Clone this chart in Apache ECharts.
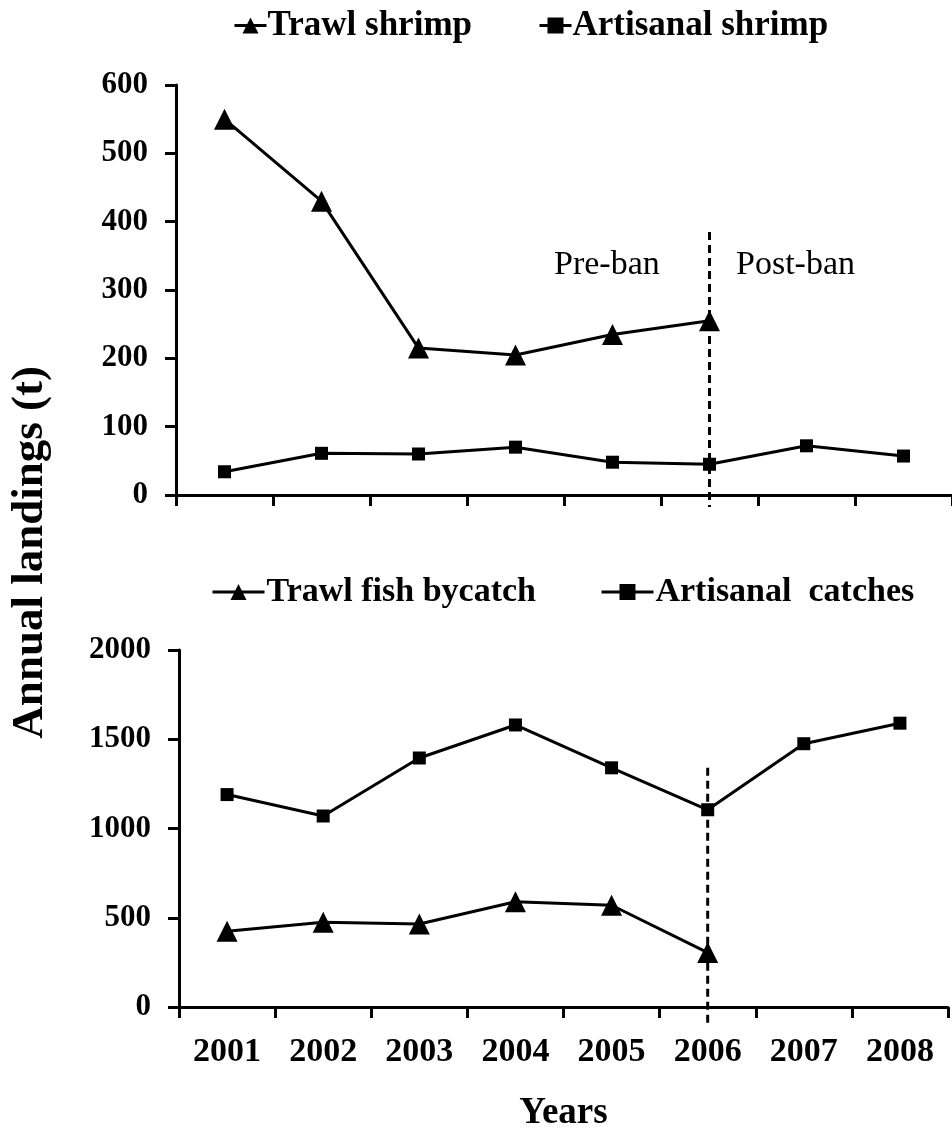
<!DOCTYPE html>
<html>
<head>
<meta charset="utf-8">
<script src="https://cdn.jsdelivr.net/npm/echarts@6/dist/echarts.min.js"></script>
<style>
html,body{margin:0;padding:0;background:#fff;}
#chart{width:952px;height:1133px;}
</style>
</head>
<body>
<div id="chart"></div>
<script>
const years = ['2001','2002','2003','2004','2005','2006','2007','2008'];
const trawlShrimp = [550, 430, 215, 205, 235, 255, null, null];
const artisanalShrimp = [34, 61, 60, 70, 48, 45, 72, 57];
const trawlFishBycatch = [425, 475, 465, 590, 570, 305, null, null];
const artisanalCatches = [1190, 1070, 1395, 1580, 1340, 1105, 1475, 1590];
const topTicks = {min: 0, max: 600, interval: 100};
const bottomTicks = {min: 0, max: 2000, interval: 500};
const banYear = '2006';
const topBanTop = 385;
const bottomBanTop = 1340;

const FONT = '"Liberation Serif", "Times New Roman", serif';
const BLACK = '#000';

const chart = echarts.init(document.getElementById('chart'), null, {renderer: 'canvas'});

function banLine(xIdx, yIdx, topVal, extra) {
  return {
    type: 'custom',
    xAxisIndex: xIdx, yAxisIndex: yIdx,
    clip: false, silent: true, z: 1,
    data: [[banYear, topVal]],
    renderItem: function (params, api) {
      const top = api.coord([api.value(0), api.value(1)]);
      const base = api.coord([api.value(0), 0]);
      return {
        type: 'line',
        shape: {x1: top[0], y1: top[1], x2: base[0], y2: base[1] + extra},
        style: {stroke: BLACK, lineWidth: 3, lineDash: [8, 5]}
      };
    }
  };
}

const lineStyle = {color: BLACK, width: 3};
const axisLabelY = {fontFamily: FONT, fontWeight: 'bold', fontSize: 31, color: BLACK, margin: 28,
  formatter: function (v) { return String(v); }};

const option = {
  backgroundColor: '#fff',
  animation: false,
  legend: [
    {
      data: ['Trawl shrimp', 'Artisanal shrimp'],
      left: 228, top: 3,
      itemWidth: 32, itemHeight: 20, itemGap: 66,
      lineStyle: {width: 3},
      textStyle: {fontFamily: FONT, fontWeight: 'bold', fontSize: 35, color: BLACK, padding: [0, 0, 0, -4]}
    },
    {
      data: ['Trawl fish bycatch', 'Artisanal  catches'],
      left: 206, top: 570,
      itemWidth: 52, itemHeight: 20, itemGap: 64,
      lineStyle: {width: 3},
      textStyle: {fontFamily: FONT, fontWeight: 'bold', fontSize: 34, color: BLACK, padding: [0, 0, 0, -3]}
    }
  ],
  grid: [
    {left: 176, top: 85, width: 776, height: 410},
    {left: 179, top: 650, width: 769, height: 363}
  ],
  xAxis: [
    {
      type: 'category', gridIndex: 0, data: years, boundaryGap: true,
      axisLine: {lineStyle: {color: BLACK, width: 3}},
      axisTick: {show: true, length: 11, lineStyle: {color: BLACK, width: 3}},
      axisLabel: {show: false}
    },
    {
      type: 'category', gridIndex: 1, data: years, boundaryGap: true,
      axisLine: {lineStyle: {color: BLACK, width: 3}},
      axisTick: {show: true, length: 11, lineStyle: {color: BLACK, width: 3}},
      axisLabel: {fontFamily: FONT, fontWeight: 'bold', fontSize: 34, color: BLACK, margin: 28},
      name: 'Years', nameLocation: 'middle', nameGap: 88,
      nameTextStyle: {fontFamily: FONT, fontWeight: 'bold', fontSize: 37, color: BLACK}
    }
  ],
  yAxis: [
    {
      type: 'value', gridIndex: 0, min: topTicks.min, max: topTicks.max, interval: topTicks.interval,
      axisLine: {show: true, lineStyle: {color: BLACK, width: 3}},
      axisTick: {show: true, length: 11, lineStyle: {color: BLACK, width: 3}},
      splitLine: {show: false},
      axisLabel: axisLabelY
    },
    {
      type: 'value', gridIndex: 1, min: bottomTicks.min, max: bottomTicks.max, interval: bottomTicks.interval,
      axisLine: {show: true, lineStyle: {color: BLACK, width: 3}},
      axisTick: {show: true, length: 11, lineStyle: {color: BLACK, width: 3}},
      splitLine: {show: false},
      axisLabel: axisLabelY
    }
  ],
  graphic: [
    {
      type: 'text', left: 8, top: 366, rotation: Math.PI / 2,
      style: {text: 'Annual landings (t)', fontFamily: FONT, fontWeight: 'bold', fontSize: 45, fill: BLACK}
    },
    {
      type: 'text', left: 554, top: 248,
      style: {text: 'Pre-ban', fontFamily: FONT, fontSize: 34, fill: BLACK}
    },
    {
      type: 'text', left: 736, top: 248,
      style: {text: 'Post-ban', fontFamily: FONT, fontSize: 34, fill: BLACK}
    }
  ],
  series: [
    {
      name: 'Trawl shrimp', type: 'line', xAxisIndex: 0, yAxisIndex: 0,
      data: trawlShrimp, symbol: 'triangle', symbolSize: 21,
      itemStyle: {color: BLACK}, lineStyle: lineStyle, z: 3
    },
    {
      name: 'Artisanal shrimp', type: 'line', xAxisIndex: 0, yAxisIndex: 0,
      data: artisanalShrimp, symbol: 'rect', symbolSize: 13,
      itemStyle: {color: BLACK}, lineStyle: lineStyle, z: 3
    },
    {
      name: 'Trawl fish bycatch', type: 'line', xAxisIndex: 1, yAxisIndex: 1,
      data: trawlFishBycatch, symbol: 'triangle', symbolSize: 21,
      itemStyle: {color: BLACK}, lineStyle: lineStyle, z: 3
    },
    {
      name: 'Artisanal  catches', type: 'line', xAxisIndex: 1, yAxisIndex: 1,
      data: artisanalCatches, symbol: 'rect', symbolSize: 13,
      itemStyle: {color: BLACK}, lineStyle: lineStyle, z: 3
    },
    banLine(0, 0, topBanTop, 12),
    banLine(1, 1, bottomBanTop, 16)
  ]
};
chart.setOption(option);
</script>
</body>
</html>
